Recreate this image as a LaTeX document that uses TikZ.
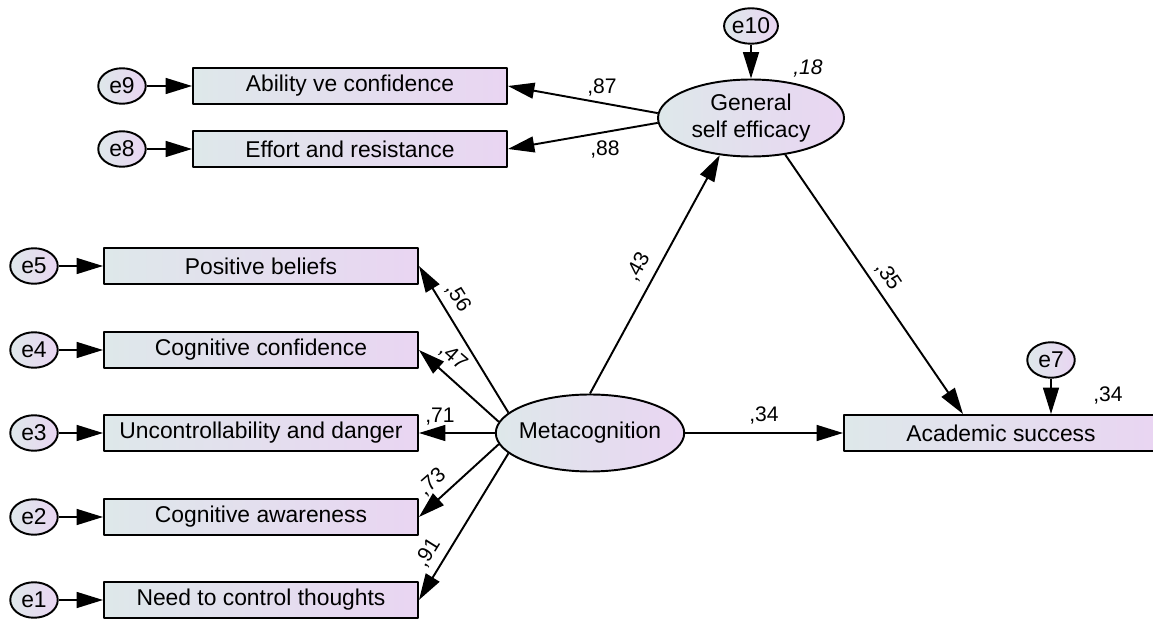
\documentclass[tikz,border=0pt]{standalone}
\usepackage{fontspec}
\setmainfont{Liberation Sans}
\usetikzlibrary{arrows.meta,shapes.geometric}
\definecolor{fillleft}{RGB}{222,232,234}
\definecolor{fillright}{RGB}{233,213,242}
\tikzset{
  every picture/.style={line join=round, >=Stealth},
  obsbox/.style={draw, line width=1.1pt, minimum width=6.28cm, minimum height=0.72cm, inner sep=0pt,
    left color=fillleft, right color=fillright, font=\fontsize{13}{15}\selectfont},
  latvar/.style={draw, ellipse, line width=1.1pt, minimum width=3.72cm, minimum height=1.54cm,
    inner xsep=-0.09cm, inner ysep=0pt,
    left color=fillleft, right color=fillright, align=center, font=\fontsize{13}{15}\selectfont},
  errvar/.style={draw, ellipse, line width=1.1pt, minimum width=0.95cm, minimum height=0.71cm, inner sep=0pt,
    left color=fillleft, right color=fillright, font=\fontsize{13}{15}\selectfont},
  regline/.style={line width=1.1pt, -{Triangle[length=15pt,width=9pt]}},
  coef/.style={inner sep=0pt, font=\fontsize{12}{14}\selectfont},
}

\begin{document}
\begin{tikzpicture}
\useasboundingbox (0,0) rectangle (23.06,12.38);
% latent variables
\node[latvar] (meta) at (11.80,3.72) {Metacognition};
\node[latvar] (gse) at (15.02,10.02) {General\\self efficacy};
% self efficacy indicators
\node[obsbox] (abil) at (7.00,10.66) {Ability ve confidence};
\node[obsbox] (effo) at (7.00,9.40) {Effort and resistance};
\node[errvar] (e9) at (2.44,10.66) {e9};
\node[errvar] (e8) at (2.44,9.40) {e8};
% metacognition indicators
\node[obsbox] (posb) at (5.22,7.06) {Positive beliefs};
\node[obsbox] (cogc) at (5.22,5.38) {Cognitive confidence};
\node[obsbox] (unco) at (5.22,3.72) {Uncontrollability and danger};
\node[obsbox] (coga) at (5.22,2.04) {Cognitive awareness};
\node[obsbox] (need) at (5.22,0.38) {Need to control thoughts};
\node[errvar] (e5) at (0.68,7.06) {e5};
\node[errvar] (e4) at (0.68,5.38) {e4};
\node[errvar] (e3) at (0.68,3.72) {e3};
\node[errvar] (e2) at (0.68,2.04) {e2};
\node[errvar] (e1) at (0.68,0.38) {e1};
% outcome
\node[obsbox] (acad) at (20.02,3.72) {Academic success};
\node[errvar] (e7) at (21.02,5.18) {e7};
\node[errvar] (e10) at (15.02,11.86) {e10};

% error terms
\draw[regline] (e9) -- (abil);
\draw[regline] (e8) -- (effo);
\draw[regline] (e5) -- (posb);
\draw[regline] (e4) -- (cogc);
\draw[regline] (e3) -- (unco);
\draw[regline] (e2) -- (coga);
\draw[regline] (e1) -- (need);
\draw[regline] (e10) -- (gse);
\draw[regline] (e7) -- (e7 |- acad.north);

% loadings
\draw[regline] (gse.177) -- (abil.east);
\draw[regline] (gse.183) -- (effo.east);
\draw[regline] (meta.166) -- (posb.east);
\draw[regline] (meta.173) -- (cogc.east);
\draw[regline] (meta.west) -- (unco.east);
\draw[regline] (meta.187) -- (coga.east);
\draw[regline] (meta.194) -- (need.east);

% structural paths
\draw[regline] (meta.north) -- (gse.230);
\draw[regline] (gse.313) -- ([xshift=-0.76cm]acad.north);
\draw[regline] (meta) -- (acad);

% coefficients
\node[coef] (c87) at (12.04,10.64) {,87};
\node[coef] (c88) at (12.10,9.40) {,88};
\node[coef, font=\fontsize{12}{14}\selectfont\itshape] (c18) at (16.16,11.02) {,18};
\node[coef, rotate=61] (c43) at (12.76,7.04) {,43};
\node[coef, rotate=-56] (c35) at (17.76,6.86) {,35};
\node[coef] (c34a) at (15.28,4.08) {,34};
\node[coef] (c34b) at (22.16,4.48) {,34};
\node[coef, rotate=-58] (c56) at (9.16,6.42) {,56};
\node[coef, rotate=-41] (c47) at (9.06,5.24) {,47};
\node[coef] (c71) at (8.80,4.04) {,71};
\node[coef, rotate=41] (c73) at (8.64,2.74) {,73};
\node[coef, rotate=58] (c91) at (8.56,1.32) {,91};
\end{tikzpicture}
\end{document}
